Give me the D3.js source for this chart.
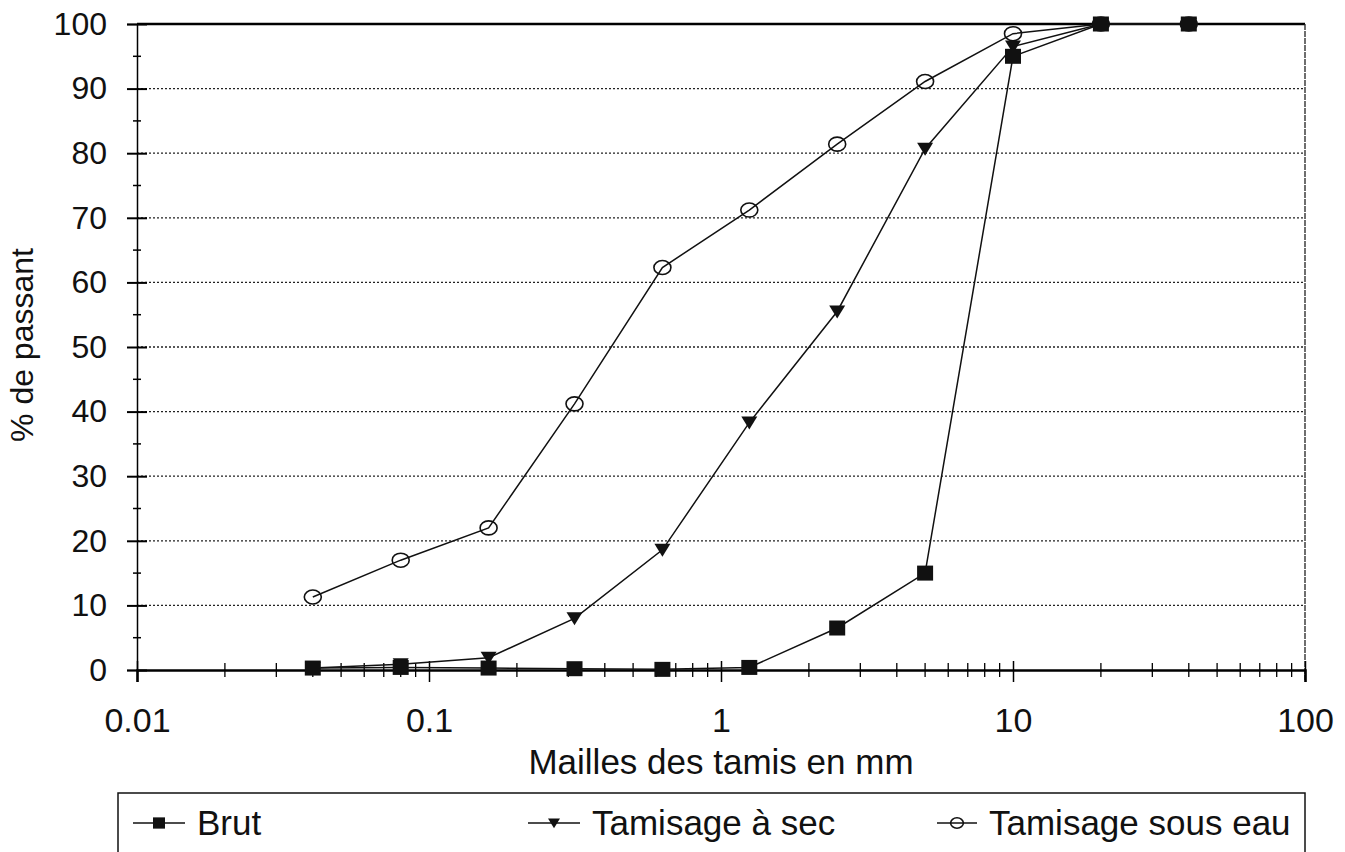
<!DOCTYPE html>
<html>
<head>
<meta charset="utf-8">
<script src="https://cdn.jsdelivr.net/npm/d3@7"></script>
<style>
  body { margin: 0; background: #fff; }
  svg { font-family: "Liberation Sans", Arial, sans-serif; }
</style>
</head>
<body>
<div id="chart"></div>
<script>
const w = 1345;
const h = 852;

// sieve sizes (mm)
const sieves = [0.04, 0.08, 0.16, 0.315, 0.63, 1.25, 2.5, 5, 10, 20, 40];
const brut = [0.3, 0.4, 0.3, 0.2, 0.1, 0.4, 6.5, 15, 95, 100, 100];
const tamisSec = [0.3, 0.9, 1.9, 8.0, 18.6, 38.3, 55.5, 80.7, 96.5, 100, 100];
const tamisEau = [11.3, 17.0, 22.0, 41.2, 62.3, 71.2, 81.4, 91.1, 98.5, 100, 100];

const xTicks = [0.01, 0.1, 1, 10, 100];
const yTicks = [0, 10, 20, 30, 40, 50, 60, 70, 80, 90, 100];
const legendNames = ["Brut", "Tamisage à sec", "Tamisage sous eau"];

const plotLeft = 137, plotRight = 1305, plotTop = 24, plotBottom = 670;

const xScale = d3.scaleLog().domain([0.01, 100]).range([plotLeft, plotRight]);
const yScale = d3.scaleLinear().domain([0, 100]).range([plotBottom, plotTop]);

const svg = d3.select("#chart").append("svg")
    .attr("width", w)
    .attr("height", h);

// gridlines
svg.append("g")
    .selectAll("line")
    .data(yTicks.filter(d => d > 0 && d < 100))
    .enter()
    .append("line")
    .attr("x1", plotLeft).attr("x2", plotRight)
    .attr("y1", d => yScale(d)).attr("y2", d => yScale(d))
    .attr("stroke", "#222")
    .attr("stroke-width", 1.3)
    .attr("stroke-dasharray", "2,2");

// top and right borders
svg.append("line")
    .attr("x1", plotLeft).attr("x2", plotRight)
    .attr("y1", plotTop).attr("y2", plotTop)
    .attr("stroke", "#000").attr("stroke-width", 2.5);
svg.append("line")
    .attr("x1", plotRight).attr("x2", plotRight)
    .attr("y1", plotTop).attr("y2", plotBottom + 10)
    .attr("stroke", "#222").attr("stroke-width", 1.3)
    .attr("stroke-dasharray", "6,1");

// y axis
let yAxis = d3.axisLeft(yScale).tickValues(yTicks).tickSize(10).tickPadding(20)
    .tickFormat(d3.format("d"));
const gy = svg.append("g")
    .attr("transform", "translate(" + plotLeft + ",0)")
    .call(yAxis);
gy.select(".domain").attr("stroke-width", 1.5);
gy.selectAll(".tick line").attr("x2", -10).attr("x1", 10).attr("stroke-width", 2);
gy.selectAll("text").attr("font-size", 32).attr("fill", "#111");

// y minor ticks
svg.append("g")
    .selectAll("line")
    .data(d3.range(5, 100, 10))
    .enter()
    .append("line")
    .attr("x1", plotLeft - 4).attr("x2", plotLeft + 4)
    .attr("y1", d => yScale(d)).attr("y2", d => yScale(d))
    .attr("stroke", "#000").attr("stroke-width", 1.5);

// x axis
let xAxis = d3.axisBottom(xScale).tickValues(xTicks).tickSize(12).tickPadding(26)
    .tickFormat(d => d3.format("")(d));
const gx = svg.append("g")
    .attr("transform", "translate(0," + plotBottom + ")")
    .call(xAxis);
gx.select(".domain").attr("stroke-width", 2.5);
gx.selectAll(".tick line").attr("y1", -9).attr("y2", 12).attr("stroke-width", 1.5);
gx.selectAll("text").attr("font-size", 34).attr("fill", "#111");

// x minor ticks
let minor = [];
[0.01, 0.1, 1, 10].forEach(dec => {
    for (let k = 2; k <= 9; k++) minor.push(dec * k);
});
svg.append("g")
    .selectAll("line")
    .data(minor)
    .enter()
    .append("line")
    .attr("x1", d => xScale(d)).attr("x2", d => xScale(d))
    .attr("y1", plotBottom - 7).attr("y2", plotBottom + 7)
    .attr("stroke", "#000").attr("stroke-width", 1.3);

// axis titles
svg.append("text")
    .attr("x", 721).attr("y", 774)
    .attr("text-anchor", "middle")
    .attr("font-size", 35)
    .attr("fill", "#111")
    .text("Mailles des tamis en mm");

svg.append("text")
    .attr("transform", "translate(33,345) rotate(-90)")
    .attr("text-anchor", "middle")
    .attr("font-size", 32)
    .attr("fill", "#111")
    .text("% de passant");

// series
const series = [
    { name: legendNames[0], values: brut, marker: "square" },
    { name: legendNames[1], values: tamisSec, marker: "triangle" },
    { name: legendNames[2], values: tamisEau, marker: "circle" }
];

const line = d3.line()
    .x(d => xScale(d[0]))
    .y(d => yScale(d[1]));

function drawMarker(g, type, x, y, scale) {
    const s = scale || 1;
    if (type === "square") {
        g.append("rect")
            .attr("x", x - 8 * s).attr("y", y - 7.5 * s)
            .attr("width", 16 * s).attr("height", 15 * s)
            .attr("fill", "#111");
    } else if (type === "triangle") {
        g.append("path")
            .attr("d", `M${x - 8 * s},${y - 6 * s}L${x + 8 * s},${y - 6 * s}L${x},${y + 7 * s}Z`)
            .attr("fill", "#111");
    } else {
        g.append("ellipse")
            .attr("cx", x).attr("cy", y)
            .attr("rx", 8.5 * s).attr("ry", 7 * s)
            .attr("fill", "none")
            .attr("stroke", "#111")
            .attr("stroke-width", 1.6);
    }
}

// draw in reverse so Brut sits on top
series.slice().reverse().forEach(s => {
    const pts = sieves.map((v, i) => [v, s.values[i]]);
    svg.append("path")
        .attr("d", line(pts))
        .attr("fill", "none")
        .attr("stroke", "#111")
        .attr("stroke-width", 1.5);
    const g = svg.append("g");
    pts.forEach(p => drawMarker(g, s.marker, xScale(p[0]), yScale(p[1])));
});

// legend
const lg = svg.append("g");
lg.append("rect")
    .attr("x", 118).attr("y", 793)
    .attr("width", 1305 - 118).attr("height", 80)
    .attr("fill", "#fff")
    .attr("stroke", "#111")
    .attr("stroke-width", 1.5);

const legendX = [133, 528, 937];
const legendW = [52, 52, 40];
series.forEach((s, i) => {
    const x0 = legendX[i];
    const y0 = 823;
    lg.append("line")
        .attr("x1", x0).attr("x2", x0 + legendW[i])
        .attr("y1", y0).attr("y2", y0)
        .attr("stroke", "#111").attr("stroke-width", 1.6);
    drawMarker(lg, s.marker, x0 + legendW[i] / 2, y0, 0.75);
    lg.append("text")
        .attr("x", x0 + legendW[i] + 12).attr("y", y0 + 12)
        .attr("font-size", 35)
        .attr("fill", "#111")
        .text(s.name);
});
</script>
</body>
</html>
